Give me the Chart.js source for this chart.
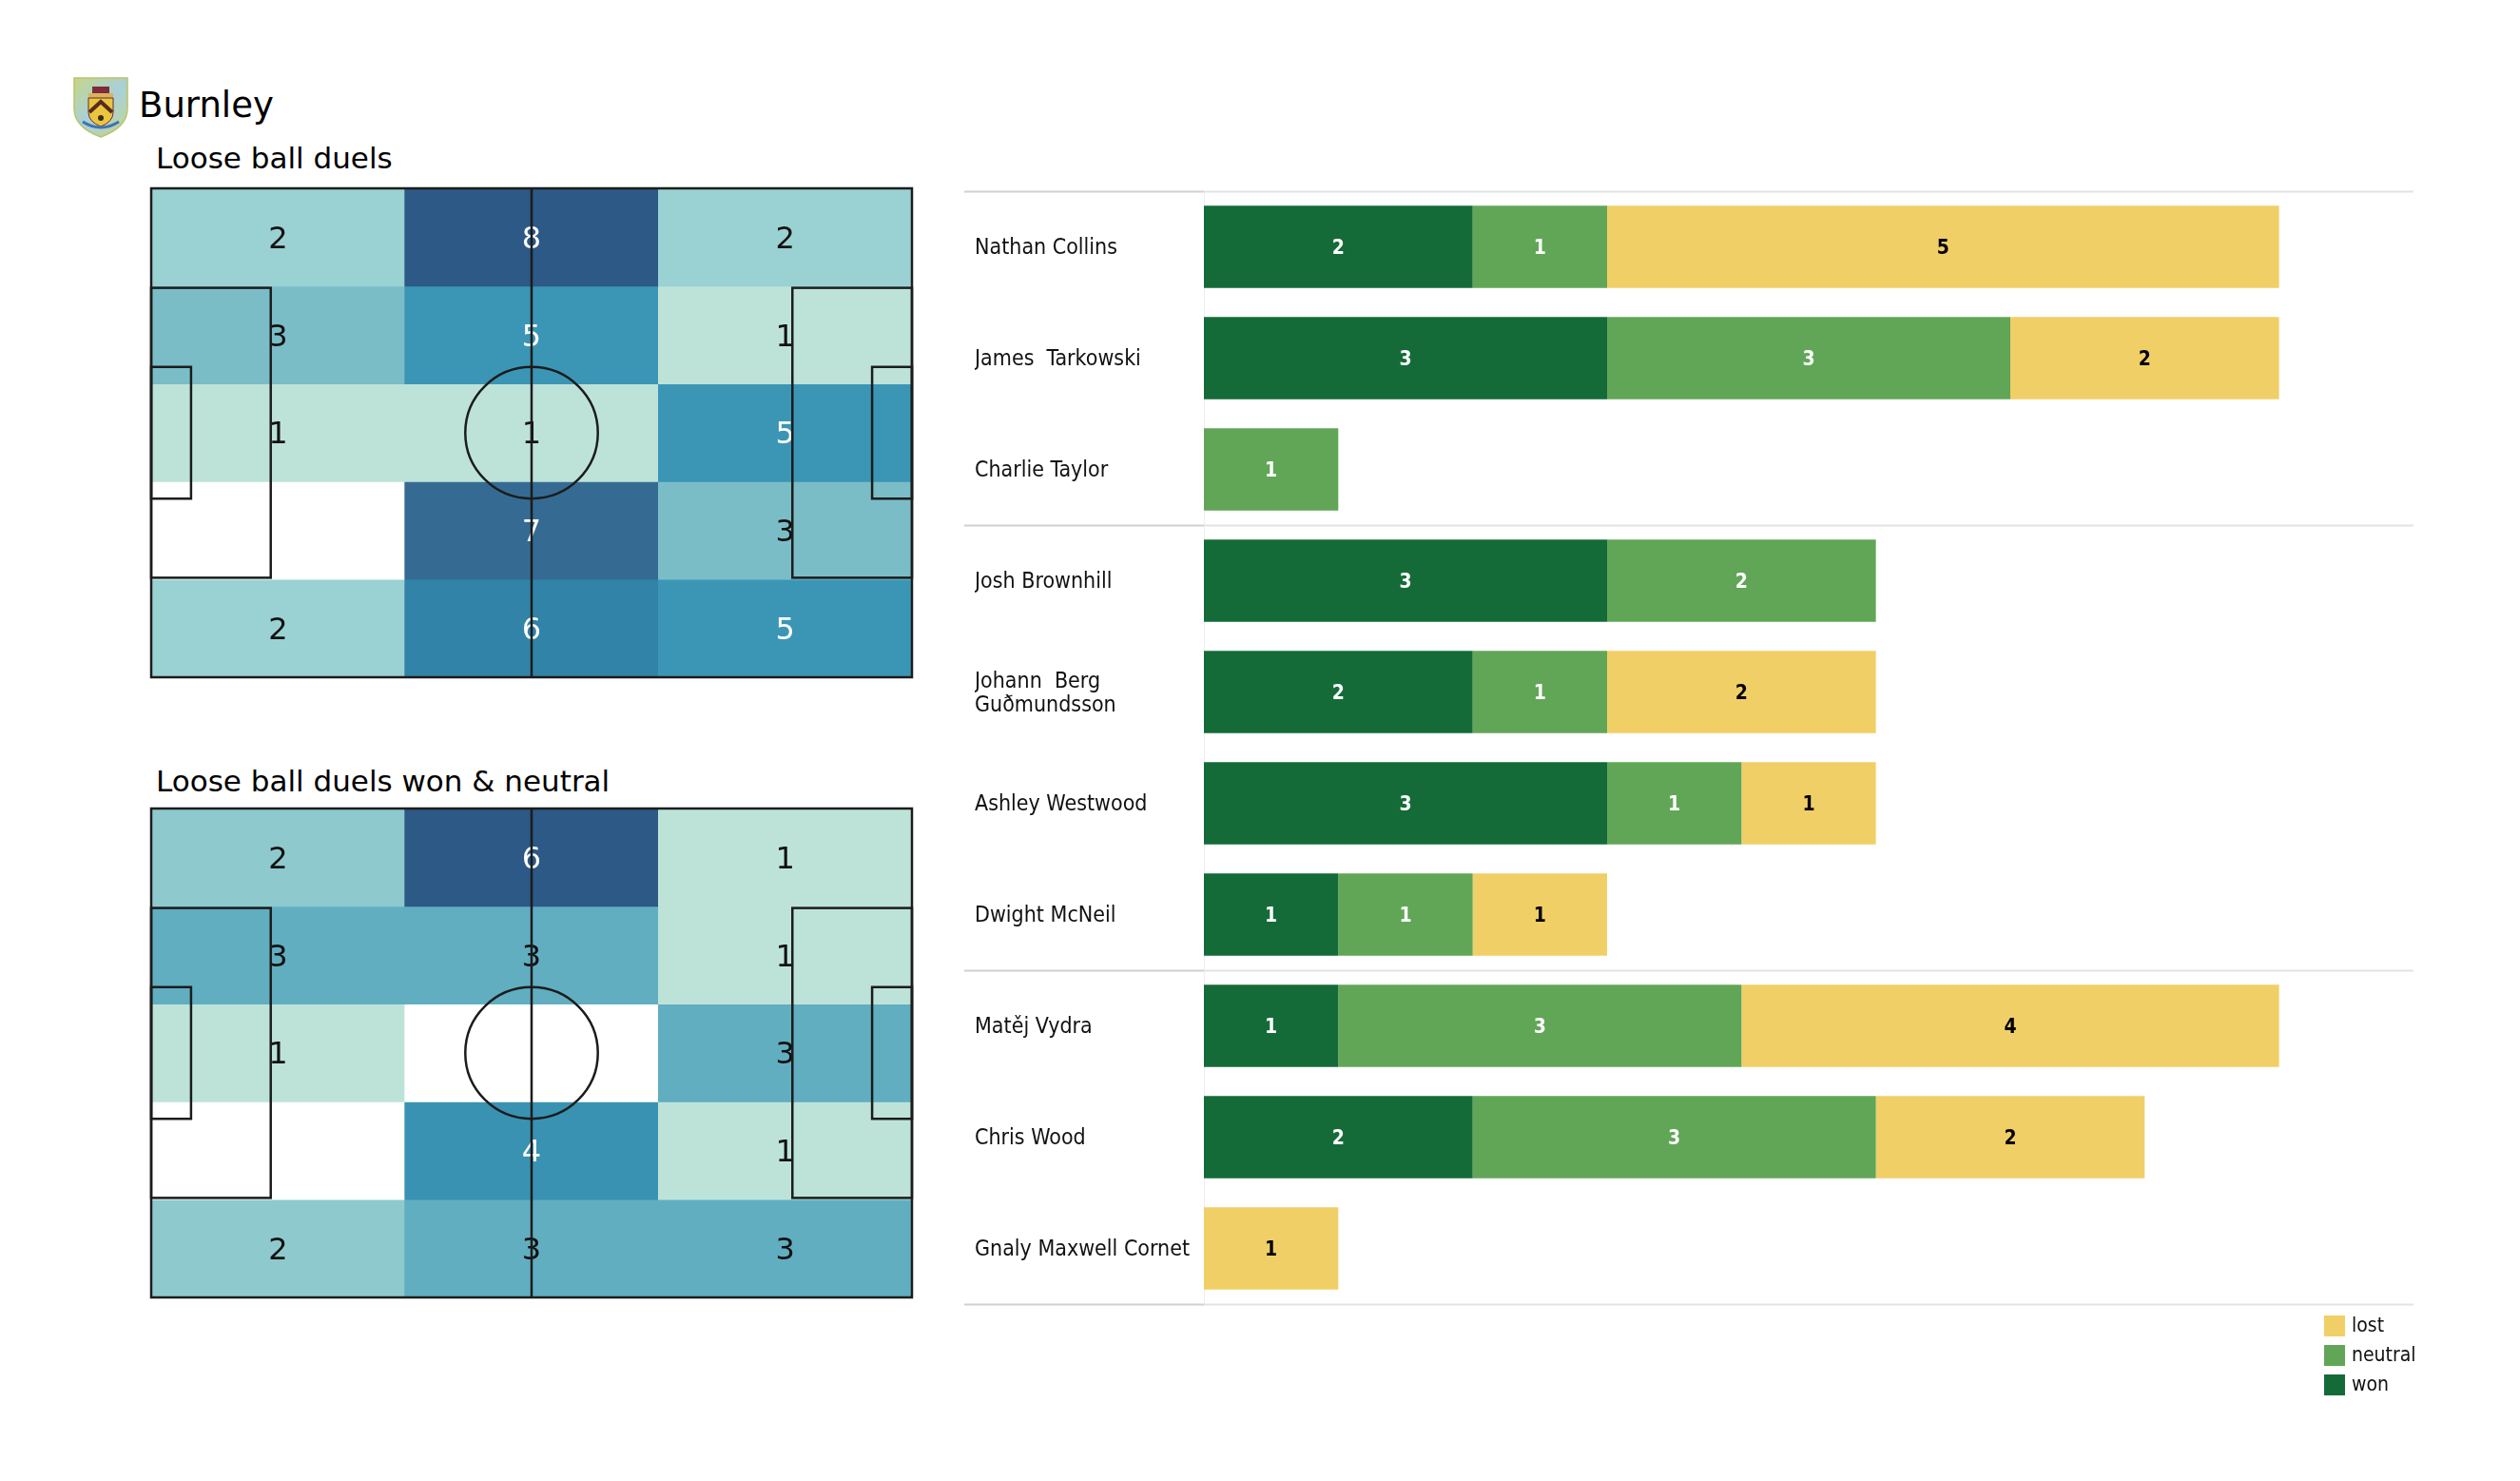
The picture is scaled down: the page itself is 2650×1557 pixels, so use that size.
<!DOCTYPE html>
<html><head><meta charset="utf-8">
<script src="https://cdn.jsdelivr.net/npm/chart.js@4.4.1/dist/chart.umd.min.js"></script>
<style>
html,body{margin:0;padding:0;background:#fff;width:2650px;height:1557px;overflow:hidden;}
.abs{position:absolute;}
.t{font-family:'DejaVu Sans';color:#000;white-space:nowrap;}
</style></head><body>
<canvas id="logo" class="abs" style="left:75px;top:78px" width="62" height="68"></canvas>
<div class="abs t" style="left:146px;top:92px;font-size:37px;line-height:37px">Burnley</div>
<div class="abs t" style="left:164px;top:151px;font-size:31px;line-height:31px">Loose ball duels</div>
<div class="abs t" style="left:164px;top:806px;font-size:31px;line-height:31px">Loose ball duels won &amp; neutral</div>
<canvas id="pitch1" class="abs" style="left:149px;top:188px" width="820" height="534"></canvas>
<canvas id="pitch2" class="abs" style="left:149px;top:840px" width="820" height="534"></canvas>
<canvas id="bars" class="abs" style="left:1004px;top:180px" width="1556" height="1320"></canvas>
<script>
// ---------- data ----------
const pitchColumns = ['left', 'centre', 'right'];
const duelsGrid = [
  [2, 8, 2],
  [3, 5, 1],
  [1, 1, 5],
  [0, 7, 3],
  [2, 6, 5]
];
const wonNeutralGrid = [
  [2, 6, 1],
  [3, 3, 1],
  [1, 0, 3],
  [0, 4, 1],
  [2, 3, 3]
];
const players = ['Nathan Collins', 'James  Tarkowski', 'Charlie Taylor', 'Josh Brownhill',
  ['Johann  Berg', 'Guðmundsson'], 'Ashley Westwood', 'Dwight McNeil', 'Matěj Vydra',
  'Chris Wood', 'Gnaly Maxwell Cornet'];
const won     = [2, 3, 0, 3, 2, 3, 1, 1, 2, 0];
const neutral = [1, 3, 1, 2, 1, 1, 1, 3, 3, 0];
const lost    = [5, 2, 0, 0, 2, 1, 1, 4, 2, 1];
const groupBreaks = [3, 7];

// ---------- styles ----------
const cmapStops = [
  [0, [189, 227, 217]], [1/7, [154, 209, 210]], [2/7, [123, 189, 199]],
  [3/7, [90, 170, 192]], [4/7, [59, 150, 181]], [5/7, [50, 131, 168]],
  [6/7, [53, 107, 147]], [1, [44, 89, 133]]
];
function cmap(t) {
  t = Math.max(0, Math.min(1, t));
  for (let i = 1; i < cmapStops.length; i++) {
    const [t1, c1] = cmapStops[i], [t0, c0] = cmapStops[i - 1];
    if (t <= t1) {
      const f = (t - t0) / (t1 - t0);
      const c = c0.map((v, k) => Math.round(v + (c1[k] - v) * f));
      return `rgb(${c[0]},${c[1]},${c[2]})`;
    }
  }
  return 'rgb(44,89,133)';
}
const COL_WON = '#146b38', COL_NEU = '#61a657', COL_LOST = '#f1cf67';

// ---------- logo ----------
(function drawLogo() {
  const c = document.getElementById('logo').getContext('2d');
  const g = c.createLinearGradient(0, 0, 62, 68);
  g.addColorStop(0, '#c9d77e'); g.addColorStop(0.5, '#a9d0d8'); g.addColorStop(1, '#c7d68a');
  c.beginPath();
  c.moveTo(3, 4); c.lineTo(59, 4); c.lineTo(59, 36);
  c.quadraticCurveTo(59, 56, 31, 66); c.quadraticCurveTo(3, 56, 3, 36); c.closePath();
  c.fillStyle = g; c.fill();
  c.lineWidth = 1.5; c.strokeStyle = '#b9c46a'; c.stroke();
  c.fillStyle = '#7d2b3d'; c.fillRect(22, 13, 18, 8);
  c.fillStyle = '#d9b35a'; c.fillRect(18, 20, 26, 5);
  c.beginPath();
  c.moveTo(18, 25); c.lineTo(44, 25); c.lineTo(44, 40);
  c.quadraticCurveTo(44, 50, 31, 55); c.quadraticCurveTo(18, 50, 18, 40); c.closePath();
  c.fillStyle = '#e9c63e'; c.fill(); c.strokeStyle = '#6b2a33'; c.lineWidth = 1; c.stroke();
  c.beginPath(); c.moveTo(19, 40); c.lineTo(31, 29); c.lineTo(43, 40);
  c.lineWidth = 4; c.strokeStyle = '#5a2a22'; c.stroke();
  c.fillStyle = '#3a2a1a'; c.beginPath(); c.arc(31, 46, 3, 0, Math.PI * 2); c.fill();
  c.beginPath(); c.moveTo(12, 50); c.quadraticCurveTo(31, 62, 50, 50);
  c.lineWidth = 3; c.strokeStyle = '#3d73b5'; c.stroke();
})();

// ---------- pitch heatmaps ----------
const pitchLines = {
  id: 'pitchLines',
  afterDatasetsDraw(chart, args, opts) {
    const ctx = chart.ctx, xs = chart.scales.x, ys = chart.scales.y;
    const grid = opts.grid, maxV = Math.max(...grid.flat());
    const px = m => xs.getPixelForValue(m / 35 - 0.5);
    const py = m => ys.getPixelForValue(m / 13.6);
    ctx.save();
    ctx.font = '32px "DejaVu Sans"';
    ctx.textAlign = 'center'; ctx.textBaseline = 'middle';
    grid.forEach((row, r) => row.forEach((v, c) => {
      if (v <= 0) return;
      ctx.fillStyle = v > maxV / 2 ? '#ffffff' : '#111111';
      ctx.fillText(String(v), xs.getPixelForValue(c), ys.getPixelForValue(r + 0.5) + 3);
    }));
    ctx.strokeStyle = '#1c1c1c'; ctx.lineWidth = 2.5;
    const rect = (x0, y0, x1, y1) => {
      ctx.strokeRect(px(x0), py(y0), px(x1) - px(x0), py(y1) - py(y0));
    };
    rect(0, 0, 105, 68);
    ctx.beginPath(); ctx.moveTo(px(52.5), py(0)); ctx.lineTo(px(52.5), py(68)); ctx.stroke();
    ctx.beginPath();
    ctx.ellipse(px(52.5), py(34), Math.abs(px(61.65) - px(52.5)), Math.abs(py(43.15) - py(34)), 0, 0, Math.PI * 2);
    ctx.stroke();
    rect(0, 13.84, 16.5, 54.16);
    rect(0, 24.84, 5.5, 43.16);
    rect(88.5, 13.84, 105, 54.16);
    rect(99.5, 24.84, 105, 43.16);
    ctx.restore();
  }
};

function pitchChart(id, grid) {
  const maxV = Math.max(...grid.flat());
  const datasets = grid.map((row, r) => ({
    data: row.map(() => [r, r + 1]),
    backgroundColor: row.map(v => v > 0 ? cmap((v - 1) / (maxV - 1)) : '#ffffff'),
    grouped: false, categoryPercentage: 1, barPercentage: 1, borderWidth: 0
  }));
  return new Chart(document.getElementById(id), {
    type: 'bar',
    data: { labels: pitchColumns, datasets },
    options: {
      responsive: false, animation: false, devicePixelRatio: 1,
      layout: { padding: 10 },
      scales: {
        x: { display: false },
        y: { display: false, min: 0, max: 5, reverse: true }
      },
      plugins: { legend: { display: false }, tooltip: { enabled: false }, pitchLines: { grid } }
    },
    plugins: [pitchLines]
  });
}
pitchChart('pitch1', duelsGrid);
pitchChart('pitch2', wonNeutralGrid);

// ---------- stacked bars ----------
const barExtras = {
  id: 'barExtras',
  afterDraw(chart) {
    const ctx = chart.ctx, ys = chart.scales.y, ca = chart.chartArea;
    ctx.save();
    const n = chart.data.labels.length;
    [0, ...groupBreaks, n].forEach(b => {
      const y = Math.round(ys.getPixelForValue(b - 0.5)) + 0.5;
      ctx.lineWidth = 2;
      ctx.strokeStyle = '#d0d0d0';
      ctx.beginPath(); ctx.moveTo(10, y); ctx.lineTo(ca.left, y); ctx.stroke();
      ctx.strokeStyle = '#e3e3e3';
      ctx.beginPath(); ctx.moveTo(ca.left, y); ctx.lineTo(ca.right, y); ctx.stroke();
    });
    ctx.font = 'bold 21px "DejaVu Sans Condensed"';
    ctx.textAlign = 'center'; ctx.textBaseline = 'middle';
    chart.data.datasets.forEach((ds, i) => {
      const meta = chart.getDatasetMeta(i);
      meta.data.forEach((el, j) => {
        const v = ds.data[j];
        if (!v) return;
        ctx.fillStyle = ds.labelColor;
        ctx.fillText(String(v), (el.x + el.base) / 2, el.y + 2);
      });
    });
    ctx.font = '21px "DejaVu Sans Condensed"';
    ctx.textAlign = 'left';
    const items = chart.data.datasets.slice().reverse();
    items.forEach((ds, k) => {
      const cy = ca.bottom + 23 + k * 31;
      ctx.fillStyle = ds.backgroundColor;
      ctx.fillRect(ca.right - 94, cy - 11, 22, 22);
      ctx.fillStyle = '#111';
      ctx.fillText(ds.label, ca.right - 65, cy + 1);
    });
    ctx.restore();
  }
};

new Chart(document.getElementById('bars'), {
  type: 'bar',
  data: {
    labels: players,
    datasets: [
      { label: 'won', data: won, backgroundColor: COL_WON, labelColor: '#ffffff' },
      { label: 'neutral', data: neutral, backgroundColor: COL_NEU, labelColor: '#ffffff' },
      { label: 'lost', data: lost, backgroundColor: COL_LOST, labelColor: '#000000' }
    ]
  },
  options: {
    indexAxis: 'y', responsive: false, animation: false, devicePixelRatio: 1,
    layout: { padding: { left: 21, top: 21, right: 22, bottom: 129 } },
    datasets: { bar: { barPercentage: 0.74, categoryPercentage: 1, borderWidth: 0 } },
    scales: {
      x: { stacked: true, min: 0, max: 9, display: false },
      y: {
        stacked: true,
        grid: { display: false, drawTicks: false },
        border: { display: true, color: '#eeeeee', width: 1 },
        ticks: {
          autoSkip: false, crossAlign: 'far', padding: 0, color: '#111', labelOffset: 2,
          font: { family: '"DejaVu Sans Condensed"', size: 23, lineHeight: 1.1 }
        },
        afterFit(s) { s.width = 241; }
      }
    },
    plugins: { legend: { display: false }, tooltip: { enabled: false } }
  },
  plugins: [barExtras]
});
</script>
</body></html>
